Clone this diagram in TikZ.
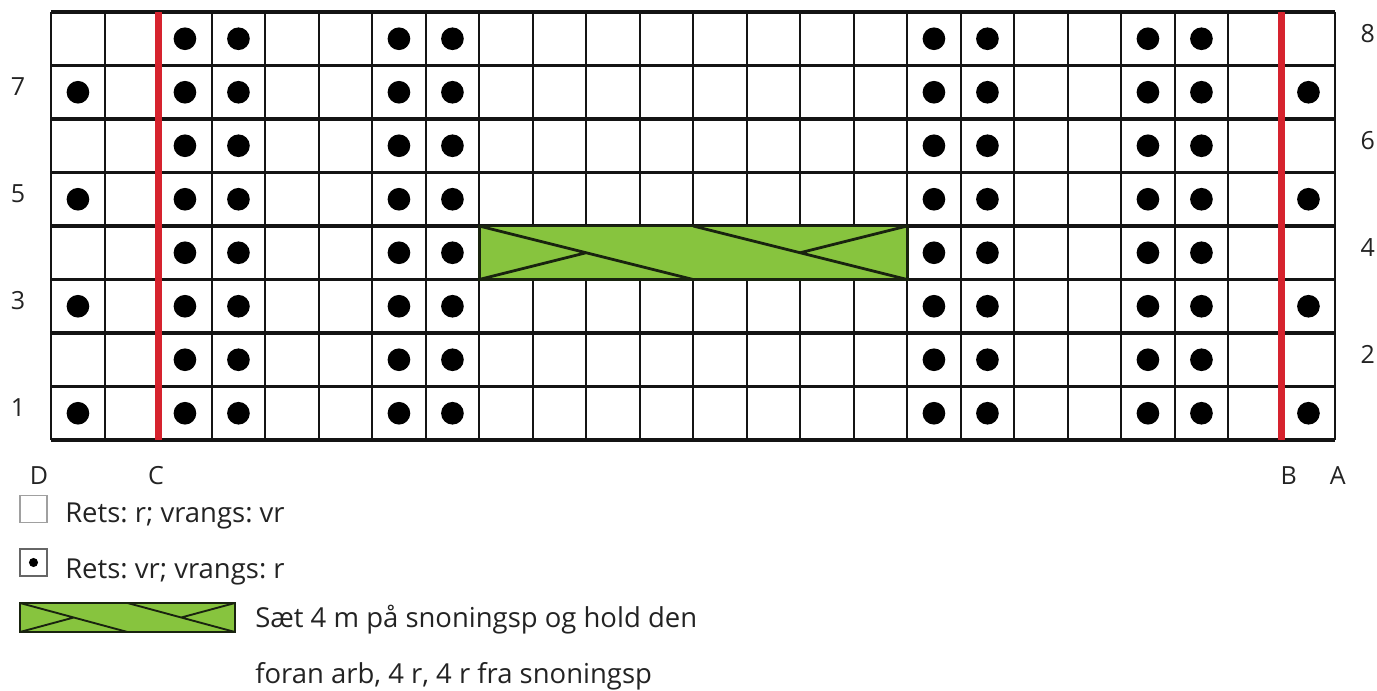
\documentclass[tikz,border=0pt]{standalone}
\usepackage{fontspec}
\setmainfont{Open Sans}
\frenchspacing
\definecolor{gridLine}{RGB}{20,20,20}
\definecolor{edgeRed}{RGB}{214,35,46}
\definecolor{cableFill}{RGB}{135,196,62}
\definecolor{cableLine}{RGB}{25,35,15}
\definecolor{txtGray}{RGB}{35,35,35}
\definecolor{keyGray}{RGB}{160,160,160}
\newcommand{\cablesym}[1]{%
  \fill[cableFill] (0,0) rectangle (8,1);
  \draw[cableLine,line width=#1] (0,1) -- (4,0) (0,0) -- (2,0.5)
    (4,1) -- (8,0) (8,1) -- (6,0.5);
  \draw[cableLine,line width=#1] (0,0) rectangle (8,1);}

\begin{document}
\begin{tikzpicture}[x=0.75pt,y=-0.75pt,
  vline/.style={draw=gridLine,line width=1.8pt},
  hline/.style={draw=gridLine,line width=2.4pt},
  redline/.style={draw=edgeRed,line width=5pt},
  dot/.style={fill=black},
  rowno/.style={text=txtGray,font=\fontsize{18.75}{20}\selectfont,inner sep=0pt},
  edgelbl/.style={text=txtGray,font=\fontsize{18.75}{20}\selectfont,inner sep=0pt},
  key/.style={draw=keyGray,line width=1.1pt,minimum size=20pt,inner sep=0pt},
  keytxt/.style={text=txtGray,font=\fontsize{20.6}{24}\selectfont,anchor=base west,inner sep=0pt}]
\useasboundingbox (0,0) rectangle (1377,691);
\begin{scope}[shift={(51.2,440)},x=40.125pt,y=40.125pt]
  % grid
  \foreach \i in {0,...,24} \draw[vline] (\i,0) -- (\i,8);
  \foreach \r in {0,...,8} \draw[hline] (0,\r) -- (24,\r);
  % cable, row 4
  \begin{scope}[shift={(8,3)}] \cablesym{2.1pt} \end{scope}
  % purl dots
  \foreach \i in {2,3,6,7,16,17,20,21}
    \foreach \r in {1,...,8} \fill[dot] (\i+0.5,\r-0.5) circle[radius=8.5pt];
  \foreach \i in {0,23}
    \foreach \r in {1,3,5,7} \fill[dot] (\i+0.5,\r-0.5) circle[radius=8.5pt];
  % edge stitches
  \draw[redline] (2,0) -- (2,8);
  \draw[redline] (23,0) -- (23,8);
  % row numbers
  \foreach \r in {1,3,5,7} \node[rowno] (left\r) at (-0.62,\r-0.4) {\r};
  \foreach \r in {2,4,6,8} \node[rowno] (right\r) at (24.61,\r-0.4) {\r};
  \node[edgelbl] (lblD) at (-0.23,-0.67) {D};
  \node[edgelbl] (lblC) at (1.96,-0.67) {C};
  \node[edgelbl] (lblB) at (23.13,-0.67) {B};
  \node[edgelbl] (lblA) at (24.05,-0.67) {A};
\end{scope}
% legend
\node[key] (plainkey) at (33.5,509) {};
\node[keytxt] (plaintxt) at (65,522) {Rets: r; vrangs: vr};
\node[key,draw=gray!80!black] (purlkey) at (33.5,562.5) {};
\fill[dot] (purlkey.center) circle[radius=3.4pt];
\node[keytxt] (purltxt) at (65,578) {Rets: vr; vrangs: r};
\begin{scope}[shift={(20,632)},x=20.156pt,y=21.75pt] \cablesym{1.4pt} \end{scope}
\node[keytxt] (cabletxt) at (255,627) {Sæt 4 m på snoningsp og hold den};
\node[keytxt] (cabletxt2) at (255,683) {foran arb, 4 r, 4 r fra snoningsp};
\end{tikzpicture}
\end{document}
